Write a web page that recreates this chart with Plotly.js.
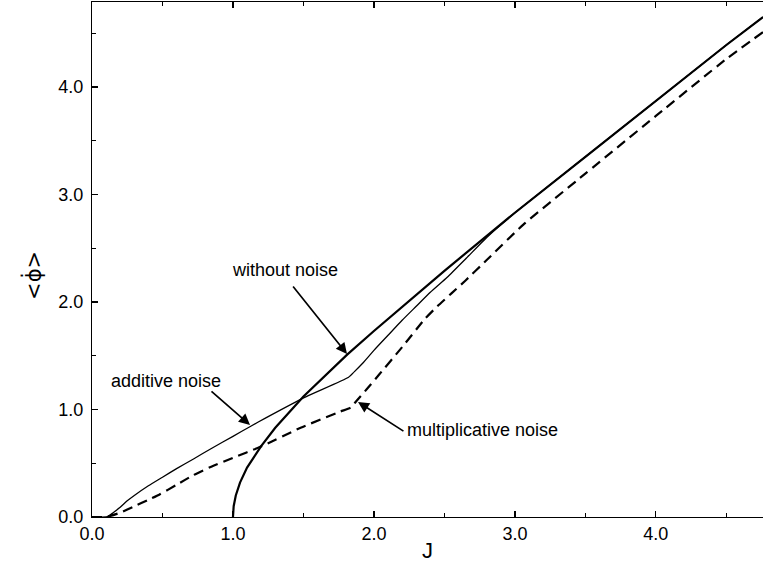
<!DOCTYPE html>
<html>
<head>
<meta charset="utf-8">
<script src="https://cdn.plot.ly/plotly-3.0.1.min.js"></script>
<style>html,body{margin:0;padding:0;background:#fff;}#chart{width:763px;height:563px;}</style>
</head>
<body>
<div id="chart"></div>
<script>
// "without noise" curve
var jWithout = [1.0, 1.005, 1.02, 1.05, 1.1, 1.2, 1.3, 1.5, 1.81, 2.0, 2.5, 2.82, 3.0, 3.5, 4.0, 4.5, 4.76];
var phiWithout = [0.0, 0.1, 0.2, 0.32, 0.46, 0.66, 0.83, 1.12, 1.51, 1.73, 2.29, 2.63, 2.83, 3.35, 3.87, 4.39, 4.65];

// "additive noise" curve
var jAdditive = [0.0, 0.1, 0.12, 0.15, 0.2, 0.25, 0.3, 0.4, 0.5, 0.6, 0.72, 0.85, 1.0, 1.12, 1.23, 1.52, 1.82, 1.86, 1.92, 2.0, 2.1, 2.2, 2.3, 2.4, 2.52, 2.65, 2.8, 3.0, 3.5, 4.0, 4.5, 4.76];
var phiAdditive = [0.0, 0.0, 0.01, 0.04, 0.09, 0.15, 0.2, 0.29, 0.37, 0.45, 0.54, 0.64, 0.75, 0.84, 0.92, 1.12, 1.30, 1.35, 1.43, 1.55, 1.69, 1.83, 1.96, 2.09, 2.23, 2.40, 2.60, 2.83, 3.35, 3.87, 4.39, 4.65];

// "multiplicative noise" curve
var jMult = [0.0, 0.1, 0.13, 0.2, 0.3, 0.4, 0.48, 0.6, 0.72, 0.85, 1.0, 1.19, 1.48, 1.76, 1.84, 1.87, 1.95, 2.04, 2.2, 2.36, 2.45, 2.55, 2.65, 2.8, 3.06, 3.44, 4.0, 4.49, 4.76];
var phiMult = [0.0, 0.0, 0.01, 0.04, 0.1, 0.16, 0.21, 0.3, 0.39, 0.47, 0.55, 0.65, 0.83, 0.98, 1.02, 1.07, 1.19, 1.33, 1.58, 1.84, 1.96, 2.08, 2.20, 2.39, 2.72, 3.13, 3.73, 4.25, 4.51];

var xTickVals = [0, 1, 2, 3, 4];
var xTickText = ["0.0", "1.0", "2.0", "3.0", "4.0"];
var yTickVals = [0, 1, 2, 3, 4];
var yTickText = ["0.0", "1.0", "2.0", "3.0", "4.0"];

var traces = [
  {x: jWithout, y: phiWithout, mode: 'lines', line: {color: '#000', width: 2.2}, name: 'without noise'},
  {x: jAdditive, y: phiAdditive, mode: 'lines', line: {color: '#000', width: 1.3, shape: 'spline', smoothing: 0.5}, name: 'additive noise'},
  {x: jMult, y: phiMult, mode: 'lines', line: {color: '#000', width: 2.2, dash: '10px,6px', shape: 'spline', smoothing: 0.5}, name: 'multiplicative noise'}
];

var fontFam = 'Liberation Sans, Arial, Helvetica, sans-serif';

function arrow(tx, ty, hx, hy) {
  return {x: hx, y: hy, ax: tx, ay: ty, axref: 'x', ayref: 'y', xref: 'x', yref: 'y',
          text: '', showarrow: true, arrowhead: 2, arrowsize: 1.3, arrowwidth: 1.7, arrowcolor: '#000'};
}
function label(x, y, t) {
  return {x: x, y: y, xref: 'x', yref: 'y', text: t, showarrow: false,
          font: {family: fontFam, size: 18, color: '#000'}};
}

var layout = {
  width: 763, height: 563,
  margin: {l: 92, r: 0, t: 2, b: 46},
  paper_bgcolor: '#fff', plot_bgcolor: '#fff',
  showlegend: false,
  font: {family: fontFam, color: '#000'},
  xaxis: {
    range: [0, 4.76], tickvals: xTickVals, ticktext: xTickText,
    ticks: 'inside', ticklen: 6, tickwidth: 1.2, tickcolor: '#000',
    minor: {dtick: 0.5, tick0: 0, ticks: 'inside', ticklen: 4, tickcolor: '#000', showgrid: false},
    showline: true, linecolor: '#000', linewidth: 1.2, mirror: 'ticks',
    showgrid: false, zeroline: false, ticklabelstandoff: 0,
    tickfont: {family: fontFam, size: 18, color: '#000'},
    title: {text: 'J', font: {family: fontFam, size: 22, color: '#000'}, standoff: 0}
  },
  yaxis: {
    range: [0, 4.79], tickvals: yTickVals, ticktext: yTickText,
    ticks: 'inside', ticklen: 6, tickwidth: 1.2, tickcolor: '#000',
    minor: {dtick: 0.5, tick0: 0, ticks: 'inside', ticklen: 4, tickcolor: '#000', showgrid: false},
    showline: true, linecolor: '#000', linewidth: 1.2,
    showgrid: false, zeroline: false, ticklabelstandoff: 4,
    tickfont: {family: fontFam, size: 18, color: '#000'}
  },
  annotations: [
    {x: -0.088, y: 0.47, xref: 'paper', yref: 'paper', xanchor: 'center', yanchor: 'middle',
     text: '&lt;\u03D5\u0307&gt;', textangle: -90, showarrow: false,
     font: {family: 'DejaVu Sans, sans-serif', size: 21, color: '#000'}},
    label(1.369, 2.30, 'without noise'),
    arrow(1.418, 2.158, 1.809, 1.516),
    label(0.525, 1.265, 'additive noise'),
    arrow(0.837, 1.181, 1.121, 0.856),
    label(2.773, 0.809, 'multiplicative noise'),
    arrow(2.22, 0.79, 1.887, 1.07)
  ]
};

Plotly.newPlot('chart', traces, layout, {displayModeBar: false, staticPlot: true});
</script>
</body>
</html>
